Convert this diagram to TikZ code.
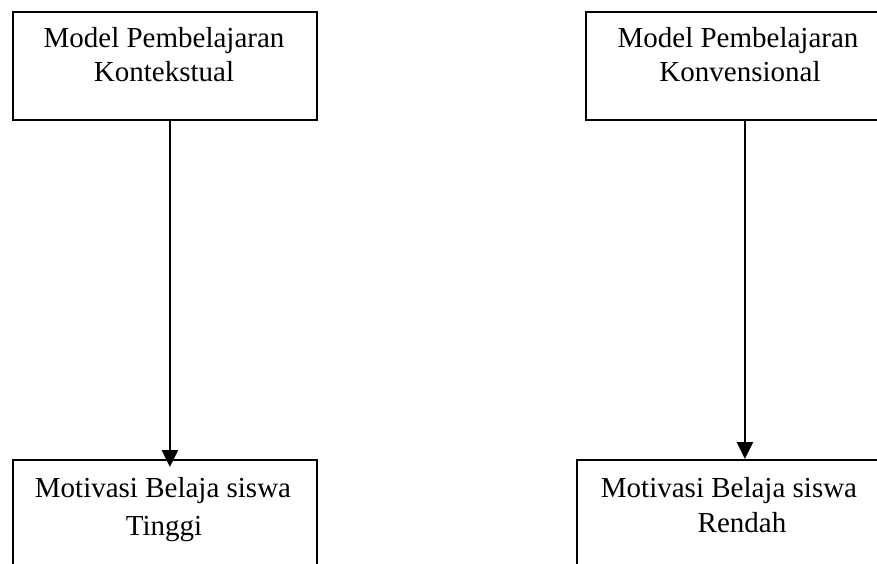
\documentclass[tikz,border=0pt]{standalone}
\usepackage{fontspec}
\setmainfont{Liberation Serif}
\usetikzlibrary{arrows.meta}
\begin{document}
\begin{tikzpicture}[x=1pt,y=-1pt,
  boxnode/.style={draw=black,line width=1.8pt,rectangle,inner sep=0pt,anchor=north west},
  txt/.style={anchor=base,inner sep=0pt,font=\fontsize{29}{34}\selectfont},
  arr/.style={line width=2.4pt,-{Triangle[length=17pt,width=16pt]}}]
\useasboundingbox (0,0) rectangle (877,564);
\clip (0,0) rectangle (877,564);
\fill[white] (0,0) rectangle (877,564);
\node[boxnode,minimum width=304pt,minimum height=108pt] (tl) at (12,11) {};
\node[boxnode,minimum width=304pt,minimum height=108pt] (tr) at (585,11) {};
\node[boxnode,minimum width=304pt,minimum height=160pt] (bl) at (12,459) {};
\node[boxnode,minimum width=304pt,minimum height=160pt] (br) at (576,459) {};
\node[txt] (tl1) at (164,48) {Model Pembelajaran};
\node[txt] (tl2) at (164,82) {Kontekstual};
\node[txt] (tr1) at (738,48) {Model Pembelajaran};
\node[txt] (tr2) at (740,82) {Konvensional};
\node[txt] (bl1) at (163,497) {Motivasi Belaja siswa};
\node[txt] (bl2) at (164,535) {Tinggi};
\node[txt] (br1) at (729,497) {Motivasi Belaja siswa};
\node[txt] (br2) at (742,532) {Rendah};
\draw[arr,shorten >=-8pt] ([xshift=5pt]tl.south) -- ([xshift=5pt]tl.south |- bl.north);
\draw[arr] ([xshift=7pt]tr.south) -- ([xshift=7pt]tr.south |- br.north);
\end{tikzpicture}
\end{document}
